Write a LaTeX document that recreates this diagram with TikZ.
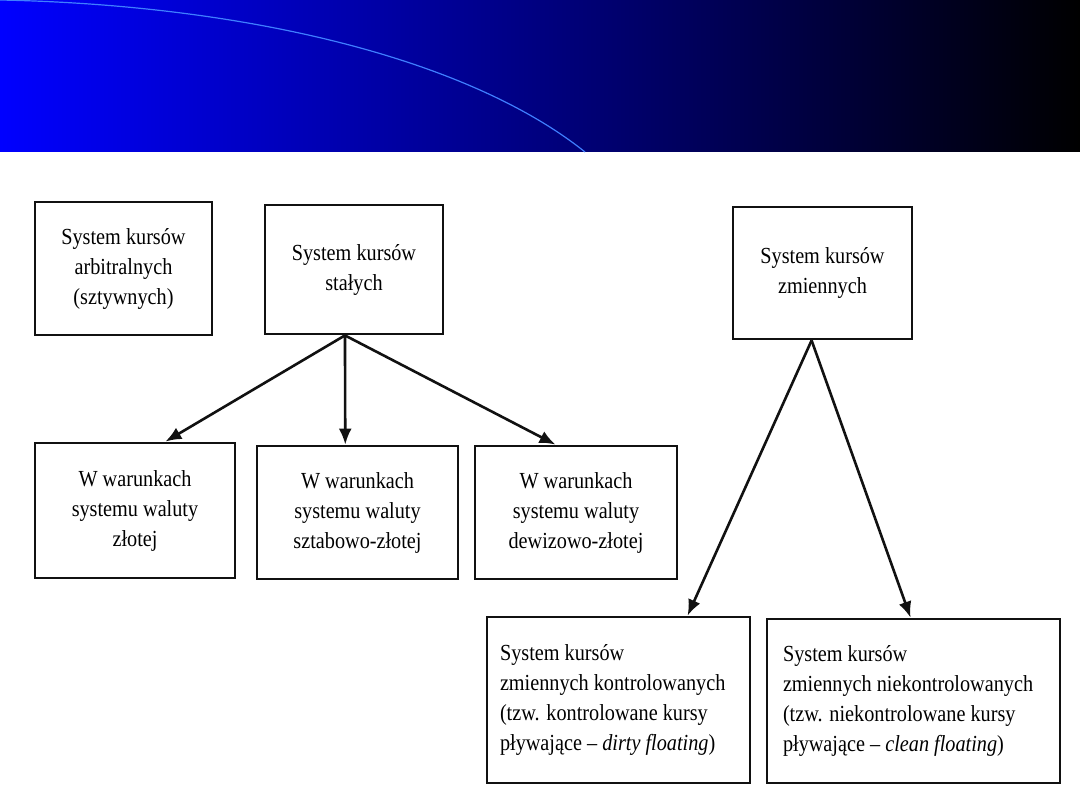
\documentclass[tikz,border=0pt]{standalone}
\usepackage{fontspec}
\setmainfont[FakeStretch=0.88]{Liberation Serif}
\usepackage{tikz}
\usetikzlibrary{arrows.meta,calc}
\definecolor{bluehead}{HTML}{0000FF}
\definecolor{arcblue}{HTML}{3F7FFF}
\definecolor{blackmain}{HTML}{111111}
\tikzset{every node/.append style={font=\fontsize{23}{30}\selectfont}}
\tikzset{box/.style={draw=blackmain,line width=2.8pt,inner sep=0pt,align=center},
  lbox/.style={box,align=flush left},
  arr/.style={-{Latex[length=16pt,width=13pt]},line width=2.6pt,blackmain}}

\begin{document}
\begin{tikzpicture}[x=1pt,y=-1pt]
  \useasboundingbox (0,0) rectangle (1080,810);
  \fill[white] (0,0) rectangle (1080,810);
  \shade[left color=bluehead,right color=black] (0,0) rectangle (1080,152);
  \draw[arcblue,line width=1.2pt] (0,0) .. controls (250,5) and (470,60) .. (585,152);
  \node[box,minimum width=177,minimum height=133] (arb) at (123.5,268.5) {System kursów\\arbitralnych\\(sztywnych)};
  \node[box,minimum width=178,minimum height=129] (stale) at (354,269.5) {System kursów\\stałych};
  \node[box,minimum width=179,minimum height=132] (zmienne) at (822.5,273) {System kursów\\zmiennych};
  \node[box,minimum width=200,minimum height=135] (zlota) at (135,510.5) {W warunkach\\systemu waluty\\złotej};
  \node[box,minimum width=201,minimum height=133] (sztab) at (357.5,512.5) {W warunkach\\systemu waluty\\sztabowo-złotej};
  \node[box,minimum width=202,minimum height=133] (dewiz) at (576,512.5) {W warunkach\\systemu waluty\\dewizowo-złotej};
  \node[lbox,text width=237,inner xsep=13,minimum height=166] (kontr) at (618.5,700) {System kursów\\zmiennych kontrolowanych\\(tzw. kontrolowane kursy\\pływające -- \textit{dirty floating})};
  \node[lbox,text width=261,inner xsep=16,minimum height=164] (niekontr) at (913.5,701) {System kursów\\zmiennych niekontrolowanych\\(tzw. niekontrolowane kursy\\pływające -- \textit{clean floating})};
  \draw[arr] ($(stale.south west)!.45!(stale.south east)$) -- ($(zlota.north west)!.65!(zlota.north east)$);
  \draw[arr] ($(stale.south west)!.45!(stale.south east)$) -- ($(sztab.north west)!.44!(sztab.north east)$);
  \draw[arr] ($(stale.south west)!.45!(stale.south east)$) -- ($(dewiz.north west)!.40!(dewiz.north east)$);
  \draw[arr] ($(zmienne.south west)!.44!(zmienne.south east)$) -- ($(kontr.north west)!.76!(kontr.north east)$);
  \draw[arr] ($(zmienne.south west)!.44!(zmienne.south east)$) -- ($(niekontr.north west)!.49!(niekontr.north east)$);
\end{tikzpicture}
\end{document}
